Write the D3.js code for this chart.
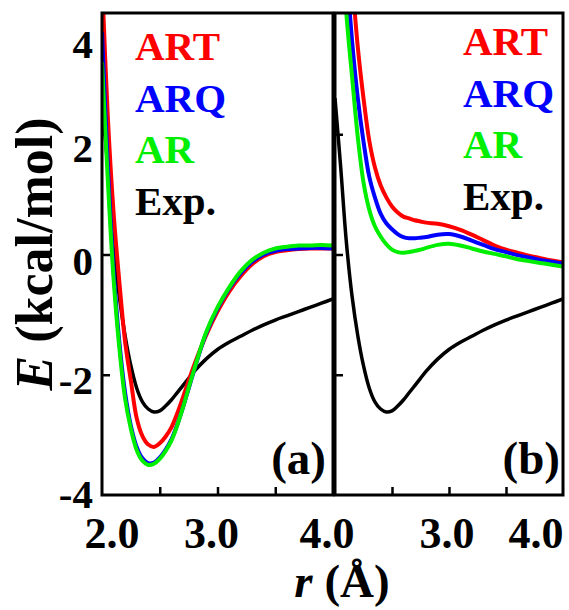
<!DOCTYPE html>
<meta charset="utf-8">
<style>
html, body {
  margin: 0;
  padding: 0;
  background: #fff;
}
svg text {
  font-family: "Liberation Serif", "Times New Roman", serif;
  font-weight: bold;
}
.frame {
  fill: none;
  stroke: #000;
  stroke-width: 3px;
}
.tick line { stroke: #000; stroke-width: 2.5px; }
.domain { display: none; }
.curve { fill: none; stroke-linejoin: round; }
</style>
<div id="chart"></div>
<script src="https://cdn.jsdelivr.net/npm/d3@7"></script>
<script>

// distance grid (Angstrom), shared by every curve
var rVals = [2.0, 2.05, 2.1, 2.15, 2.2, 2.25, 2.3, 2.35, 2.4, 2.45, 2.5, 2.55, 2.6, 2.65,
             2.7, 2.75, 2.8, 2.9, 3.0, 3.1, 3.2, 3.3, 3.4, 3.5, 3.6, 3.7, 3.8, 3.9, 4.0];

// experimental curve (same in both panels)
var expE = [2.6, 1.45, 0.2, -0.7, -1.35, -1.85, -2.22, -2.45, -2.57, -2.62, -2.6, -2.52, -2.42, -2.3,
            -2.18, -2.06, -1.94, -1.74, -1.58, -1.46, -1.36, -1.26, -1.17, -1.09, -1.02, -0.95, -0.88, -0.81, -0.74];

// panel (a)
var artA = [4.6, 2.3, 0.7, -0.45, -1.45, -2.1, -2.72, -3.02, -3.16, -3.2, -3.14, -3.03, -2.88, -2.65,
            -2.38, -2.1, -1.83, -1.35, -0.95, -0.62, -0.36, -0.16, -0.03, 0.04, 0.07, 0.09, 0.1, 0.1, 0.1];
var arqA = [3.7, 1.5, -0.25, -1.45, -2.3, -2.85, -3.2, -3.39, -3.47, -3.46, -3.38, -3.25, -3.08, -2.84,
            -2.55, -2.23, -1.91, -1.32, -0.9, -0.57, -0.31, -0.12, 0.0, 0.06, 0.09, 0.1, 0.11, 0.11, 0.1];
var arA  = [3.2, 1.25, -0.4, -1.55, -2.4, -2.9, -3.25, -3.43, -3.5, -3.48, -3.4, -3.27, -3.1, -2.85,
            -2.55, -2.22, -1.9, -1.3, -0.88, -0.55, -0.28, -0.09, 0.03, 0.1, 0.13, 0.15, 0.15, 0.16, 0.15];

// panel (b)
var artB = [null, null, 6.0, 4.6, 3.45, 2.6, 1.9, 1.45, 1.15, 0.95, 0.8, 0.7, 0.63, 0.6,
            0.57, 0.55, 0.53, 0.51, 0.47, 0.41, 0.33, 0.24, 0.15, 0.08, 0.03, -0.02, -0.06, -0.1, -0.13];
var arqB = [null, null, 4.8, 3.55, 2.6, 1.88, 1.3, 0.95, 0.68, 0.52, 0.42, 0.34, 0.29, 0.27,
            0.27, 0.28, 0.29, 0.33, 0.34, 0.3, 0.23, 0.16, 0.09, 0.04, -0.01, -0.05, -0.09, -0.12, -0.15];
var arB  = [null, 5.6, 4.0, 2.95, 1.95, 1.2, 0.75, 0.47, 0.3, 0.17, 0.08, 0.04, 0.03, 0.04,
            0.06, 0.08, 0.11, 0.16, 0.18, 0.15, 0.1, 0.05, 0.01, -0.03, -0.08, -0.11, -0.14, -0.17, -0.2];

var seriesNames = ["ART", "ARQ", "AR", "Exp."];
var seriesColors = ["#ff0000", "#0000ff", "#00ee00", "#000000"];

var yTicks = [4, 2, 0, -2, -4];
var yTickLabels = ["4", "2", "0", "-2", "-4"];
var xTicks = [2.5, 3.0, 3.5];
var xLabelsA = ["2.0", "3.0", "4.0"];
var xLabelsB = ["3.0", "4.0"];

var W = 569, H = 610;
var plotTop = 13, plotBottom = 495;

var svg = d3.select("#chart").append("svg")
    .attr("width", W)
    .attr("height", H);

var y = d3.scaleLinear().domain([-4, 4]).range([plotBottom, plotTop + 1]);

var panels = [
  {id: "a", x0: 102, x1: 333, art: artA, arq: arqA, ar: arA, tag: "(a)", legX: 135, legY: 60,
   labels: xLabelsA, labelVals: [2, 3, 4], labelShift: [10, -6, -6]},
  {id: "b", x0: 335, x1: 563, art: artB, arq: arqB, ar: arB, tag: "(b)", legX: 463, legY: 55,
   labels: xLabelsB, labelVals: [3, 4], labelShift: [-2, -27]}
];

panels.forEach(function(p) {
  var x = d3.scaleLinear().domain([2, 4]).range([p.x0, p.x1]);
  var g = svg.append("g");

  g.append("clipPath").attr("id", "clip-" + p.id)
    .append("rect")
      .attr("x", p.x0).attr("y", plotTop)
      .attr("width", p.x1 - p.x0).attr("height", plotBottom - plotTop);

  // inward ticks
  g.append("g")
      .attr("transform", "translate(0," + plotBottom + ")")
      .call(d3.axisBottom(x).tickValues(xTicks).tickSize(-8).tickFormat(""));
  g.append("g")
      .attr("transform", "translate(" + p.x0 + ",0)")
      .call(d3.axisLeft(y).tickValues([2, 0, -2]).tickSize(-8).tickFormat(""));

  var line = d3.line()
      .defined(function(d) { return d[1] != null; })
      .x(function(d) { return x(d[0]); })
      .y(function(d) { return y(d[1]); })
      .curve(d3.curveCatmullRom.alpha(0.5));

  var sets = [expE, p.art, p.arq, p.ar];
  var colorIdx = [3, 0, 1, 2];
  var lines = g.append("g").attr("clip-path", "url(#clip-" + p.id + ")");
  sets.forEach(function(vals, i) {
    lines.append("path")
        .attr("class", "curve")
        .attr("stroke", seriesColors[colorIdx[i]])
        .attr("stroke-width", colorIdx[i] == 3 ? 3.5 : 4)
        .attr("d", line(rVals.map(function(r, j) { return [r, vals[j]]; })));
  });

  g.append("rect")
      .attr("class", "frame")
      .attr("x", p.x0).attr("y", plotTop)
      .attr("width", p.x1 - p.x0).attr("height", plotBottom - plotTop);

  // legend
  seriesNames.forEach(function(name, i) {
    g.append("text")
        .attr("x", p.legX)
        .attr("y", p.legY + i * 51.5)
        .attr("fill", seriesColors[i])
        .style("font-size", "41px")
        .text(name);
  });

  g.append("text")
      .attr("x", p.x1 - (p.id == "a" ? 7 : 3))
      .attr("y", 474)
      .attr("text-anchor", "end")
      .style("font-size", "47px")
      .text(p.tag);

  // x tick labels
  p.labels.forEach(function(lab, i) {
    g.append("text")
        .attr("x", x(p.labelVals[i]) + p.labelShift[i])
        .attr("y", 548)
        .attr("text-anchor", "middle")
        .style("font-size", "44px")
        .text(lab);
  });
});

// y tick labels (left panel only)
var yShift = [30, 13, 6, 5, -1];
yTicks.forEach(function(v, i) {
  svg.append("text")
      .attr("x", 93)
      .attr("y", y(v) + yShift[i])
      .attr("dy", "0.35em")
      .attr("text-anchor", "end")
      .style("font-size", "41px")
      .text(yTickLabels[i]);
});

// axis titles
var yt = svg.append("text")
    .attr("transform", "translate(52,254) rotate(-90)")
    .attr("text-anchor", "middle")
    .style("font-size", "52px");
yt.append("tspan").style("font-style", "italic").text("E");
yt.append("tspan").text(" (kcal/mol)");

var xt = svg.append("text")
    .attr("x", 342)
    .attr("y", 597)
    .attr("text-anchor", "middle")
    .style("font-size", "47px");
xt.append("tspan").style("font-style", "italic").text("r");
xt.append("tspan").text(" (Å)");

</script>
